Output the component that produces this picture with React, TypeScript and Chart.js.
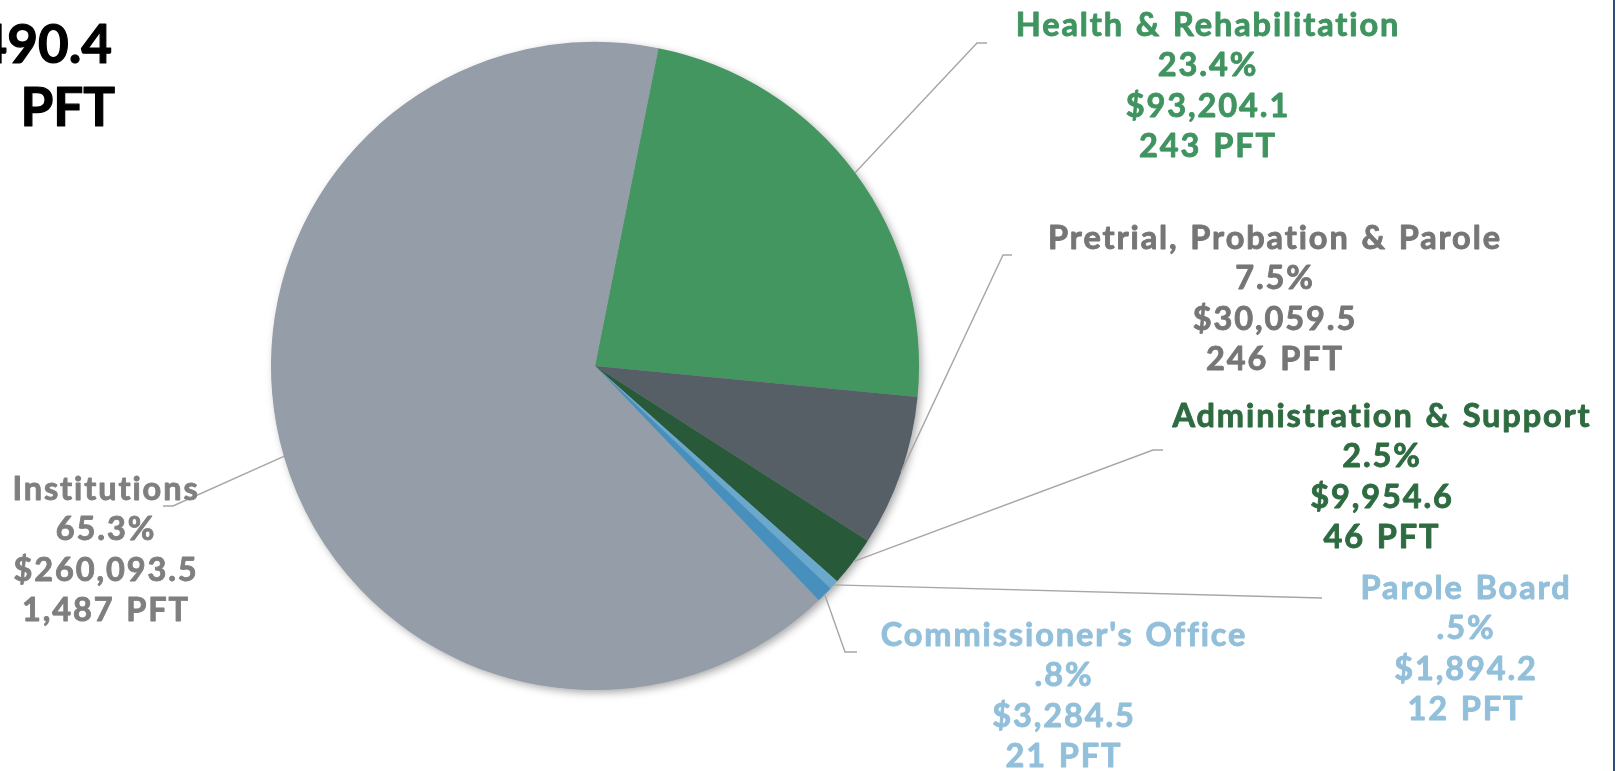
import React, { useEffect, useRef } from "react";
import { Chart, registerables } from "chart.js";

Chart.register(...registerables);

// ---- data ----
const categories = [
  "Health & Rehabilitation",
  "Pretrial, Probation & Parole",
  "Administration & Support",
  "Parole Board",
  "Commissioner's Office",
  "Institutions",
];
const amounts = [93204.1, 30059.5, 9954.6, 1894.2, 3284.5, 260093.5];
const positions = [243, 246, 46, 12, 21, 1487];
const totalAmountLabel = "$398,490.4";
const totalPftLabel = "2,055 PFT";

// ---- styles ----
const sliceColors = ["#43965f", "#565e66", "#285a39", "#6aa8cd", "#4790bd", "#959ea8"];
const labelColors = ["#3f9460", "#767676", "#2e6b41", "#92bfda", "#92bfda", "#7f7f7f"];

// label placement: text centre x, first line cap-centre y, leader elbow, leader end
const labelLayout = [
  { cx: 1208, y0: 24, elbow: [977, 43], end: [987, 43] },
  { cx: 1275, y0: 237, elbow: [1003, 255], end: [1012, 255] },
  { cx: 1382, y0: 415, elbow: [1153, 450], end: [1163, 450] },
  { cx: 1466, y0: 587, elbow: [1322, 598], end: [1322, 598] },
  { cx: 1064, y0: 634, elbow: [845, 652], end: [857, 652] },
  { cx: 106, y0: 488, elbow: [173, 506], end: [163, 506] },
];

const FONT = "Lato, 'Open Sans', sans-serif";
const LABEL_SIZE = 32.5;
const LINE_GAP = 40.6;

function fmtPct(v: number, total: number) {
  const s = ((v / total) * 100).toFixed(1);
  return (s.startsWith("0") ? s.slice(1) : s) + "%";
}
function fmtMoney(v: number) {
  return "$" + v.toLocaleString("en-US", { minimumFractionDigits: 1, maximumFractionDigits: 1 });
}
function fmtPft(v: number) {
  return v.toLocaleString("en-US") + " PFT";
}

const shadowPlugin = {
  id: "pieShadow",
  beforeDatasetsDraw(chart: any) {
    const meta = chart.getDatasetMeta(0);
    const arc = meta.data[0];
    if (!arc) return;
    const { x, y, outerRadius } = arc.getProps(["x", "y", "outerRadius"], true);
    const ctx = chart.ctx;
    ctx.save();
    ctx.shadowColor = "rgba(0,0,0,0.35)";
    ctx.shadowBlur = 9;
    ctx.shadowOffsetX = 3;
    ctx.shadowOffsetY = 3;
    ctx.fillStyle = "#959ea8";
    ctx.beginPath();
    ctx.arc(x, y, outerRadius - 0.5, 0, Math.PI * 2);
    ctx.fill();
    ctx.restore();
  },
};

const labelPlugin = {
  id: "pieLabels",
  afterDatasetsDraw(chart: any) {
    const ctx = chart.ctx;
    const meta = chart.getDatasetMeta(0);
    const total = amounts.reduce((a, b) => a + b, 0);
    ctx.save();
    // leader lines
    ctx.strokeStyle = "#a6a6a6";
    ctx.lineWidth = 1.4;
    meta.data.forEach((arc: any, i: number) => {
      const p = arc.getProps(["x", "y", "startAngle", "endAngle", "outerRadius"], true);
      const mid = (p.startAngle + p.endAngle) / 2;
      const sx = p.x + Math.cos(mid) * p.outerRadius;
      const sy = p.y + Math.sin(mid) * p.outerRadius;
      const L = labelLayout[i];
      ctx.beginPath();
      ctx.moveTo(sx, sy);
      ctx.lineTo(L.elbow[0], L.elbow[1]);
      ctx.lineTo(L.end[0], L.end[1]);
      ctx.stroke();
    });
    // label text
    ctx.font = `bold ${LABEL_SIZE}px ${FONT}`;
    (ctx as any).letterSpacing = "1.9px";
    (ctx as any).wordSpacing = "2px";
    ctx.textAlign = "center";
    ctx.textBaseline = "alphabetic";
    ctx.lineJoin = "round";
    ctx.lineWidth = 0.9;
    const capHalf = LABEL_SIZE * 0.717 / 2;
    categories.forEach((name, i) => {
      const L = labelLayout[i];
      const lines = [name, fmtPct(amounts[i], total), fmtMoney(amounts[i]), fmtPft(positions[i])];
      ctx.fillStyle = labelColors[i];
      ctx.strokeStyle = labelColors[i];
      lines.forEach((t, k) => {
        const yy = L.y0 + k * LINE_GAP + capHalf;
        ctx.fillText(t, L.cx, yy);
        ctx.strokeText(t, L.cx, yy);
      });
    });
    // total (cropped at left edge)
    ctx.fillStyle = "#000000";
    ctx.strokeStyle = "#000000";
    ctx.lineWidth = 1.2;
    ctx.font = `bold 53px ${FONT}`;
    (ctx as any).letterSpacing = "0px";
    ctx.textAlign = "right";
    (ctx as any).wordSpacing = "0px";
    ctx.fillText(totalAmountLabel, 112, 44 + 19);
    ctx.strokeText(totalAmountLabel, 112, 44 + 19);
    (ctx as any).wordSpacing = "14px";
    ctx.fillText(totalPftLabel, 115, 107 + 19);
    ctx.strokeText(totalPftLabel, 115, 107 + 19);
    (ctx as any).wordSpacing = "0px";
    // right border
    ctx.strokeStyle = "#2d4d7d";
    ctx.lineWidth = 2;
    ctx.beginPath();
    ctx.moveTo(1614, 0);
    ctx.lineTo(1614, 771);
    ctx.stroke();
    ctx.restore();
  },
};

export default function App() {
  const ref = useRef<HTMLCanvasElement | null>(null);
  useEffect(() => {
    if (!ref.current) return;
    const chart = new Chart(ref.current, {
      type: "pie",
      data: {
        labels: categories,
        datasets: [
          {
            data: amounts,
            backgroundColor: sliceColors,
            borderWidth: 0,
          },
        ],
      },
      options: {
        animation: false,
        responsive: false,
        devicePixelRatio: 1,
        rotation: 11.3,
        layout: { padding: { left: 271, right: 701, top: 42, bottom: 81 } },
        plugins: {
          legend: { display: false },
          tooltip: { enabled: false },
        },
      },
      plugins: [shadowPlugin, labelPlugin],
    });
    return () => chart.destroy();
  }, []);
  return (
    <div style={{ position: "fixed", left: 0, top: 0, width: 1620, height: 771, background: "#ffffff" }}>
      <canvas ref={ref} width={1620} height={771} style={{ display: "block" }} />
    </div>
  );
}
